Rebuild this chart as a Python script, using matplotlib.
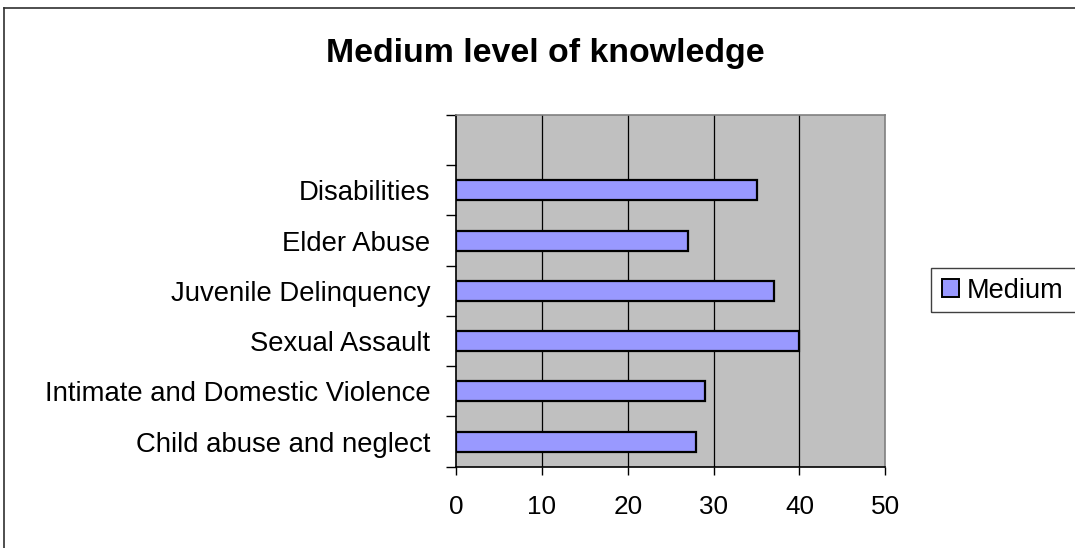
import matplotlib
matplotlib.use("Agg")
import matplotlib.pyplot as plt
from matplotlib.lines import Line2D
from matplotlib.patches import Patch, Rectangle

plt.rcParams['font.family'] = ['Liberation Sans', 'DejaVu Sans']

categories = ["Child abuse and neglect", "Intimate and Domestic Violence",
              "Sexual Assault", "Juvenile Delinquency", "Elder Abuse", "Disabilities"]
medium = [28, 29, 40, 37, 27, 35]
x_ticks = [0, 10, 20, 30, 40, 50]

W, H = 1075, 548
fig = plt.figure(figsize=(W / 100, H / 100), dpi=100)
ax = fig.add_axes([456 / W, 1 - 466.7 / H, (885.3 - 456) / W, (466.7 - 115) / H])

ax.set_facecolor('#C0C0C0')
positions = list(range(len(categories)))
ax.barh(positions, medium, height=0.4, color='#9999FF', edgecolor='black',
        linewidth=1.6, zorder=3)

ax.set_xlim(0, 50)
ax.set_ylim(-0.5, len(categories) + 0.5)

ax.set_xticks(x_ticks)
ax.set_xticklabels([str(t) for t in x_ticks], fontsize=18.8)
ax.tick_params(axis='x', direction='out', length=6, width=1, pad=14.5, color='black')
for t in x_ticks[1:-1]:
    ax.axvline(t, color='black', linewidth=0.9, zorder=1)

bounds = [i - 0.5 for i in range(len(categories) + 2)]
ax.set_yticks(bounds)
ax.set_yticklabels([])
ax.tick_params(axis='y', which='major', direction='out', length=7.2, width=1, color='black')
ax.set_yticks(positions, minor=True)
ax.set_yticklabels(categories, minor=True, fontsize=19.8)
ax.tick_params(axis='y', which='minor', length=0, pad=18.5)

for side in ('top', 'right'):
    ax.spines[side].set_color('#808080')
    ax.spines[side].set_linewidth(1.2)
for side in ('left', 'bottom'):
    ax.spines[side].set_color('black')
    ax.spines[side].set_linewidth(1.2)

fig.text(545 / W, 1 - 61.7 / H, "Medium level of knowledge", ha='center', va='baseline',
         fontsize=24.4, fontweight='bold')

# legend entry and its frame
handle = Patch(facecolor='#9999FF', edgecolor='black', linewidth=1.4)
leg = fig.legend([handle], ["Medium"], loc='center left',
                 bbox_to_anchor=(941.5 / W, 1 - 290.5 / H), fontsize=19.5,
                 frameon=False, handlelength=0.63, handleheight=0.63,
                 handletextpad=0.3, borderpad=0, borderaxespad=0)
fig.add_artist(Rectangle((931 / W, 1 - 311.7 / H), (1085 - 931) / W, 44 / H,
                         transform=fig.transFigure, facecolor='none',
                         edgecolor='#404040', linewidth=1))

# outer chart-area frame
fig.add_artist(Line2D([4 / W, 1], [1 - 8 / H, 1 - 8 / H], color='#303030', linewidth=1.2))
fig.add_artist(Line2D([4 / W, 4 / W], [0, 1 - 8 / H], color='#303030', linewidth=1.2))

fig.savefig("out.png", dpi=100)
